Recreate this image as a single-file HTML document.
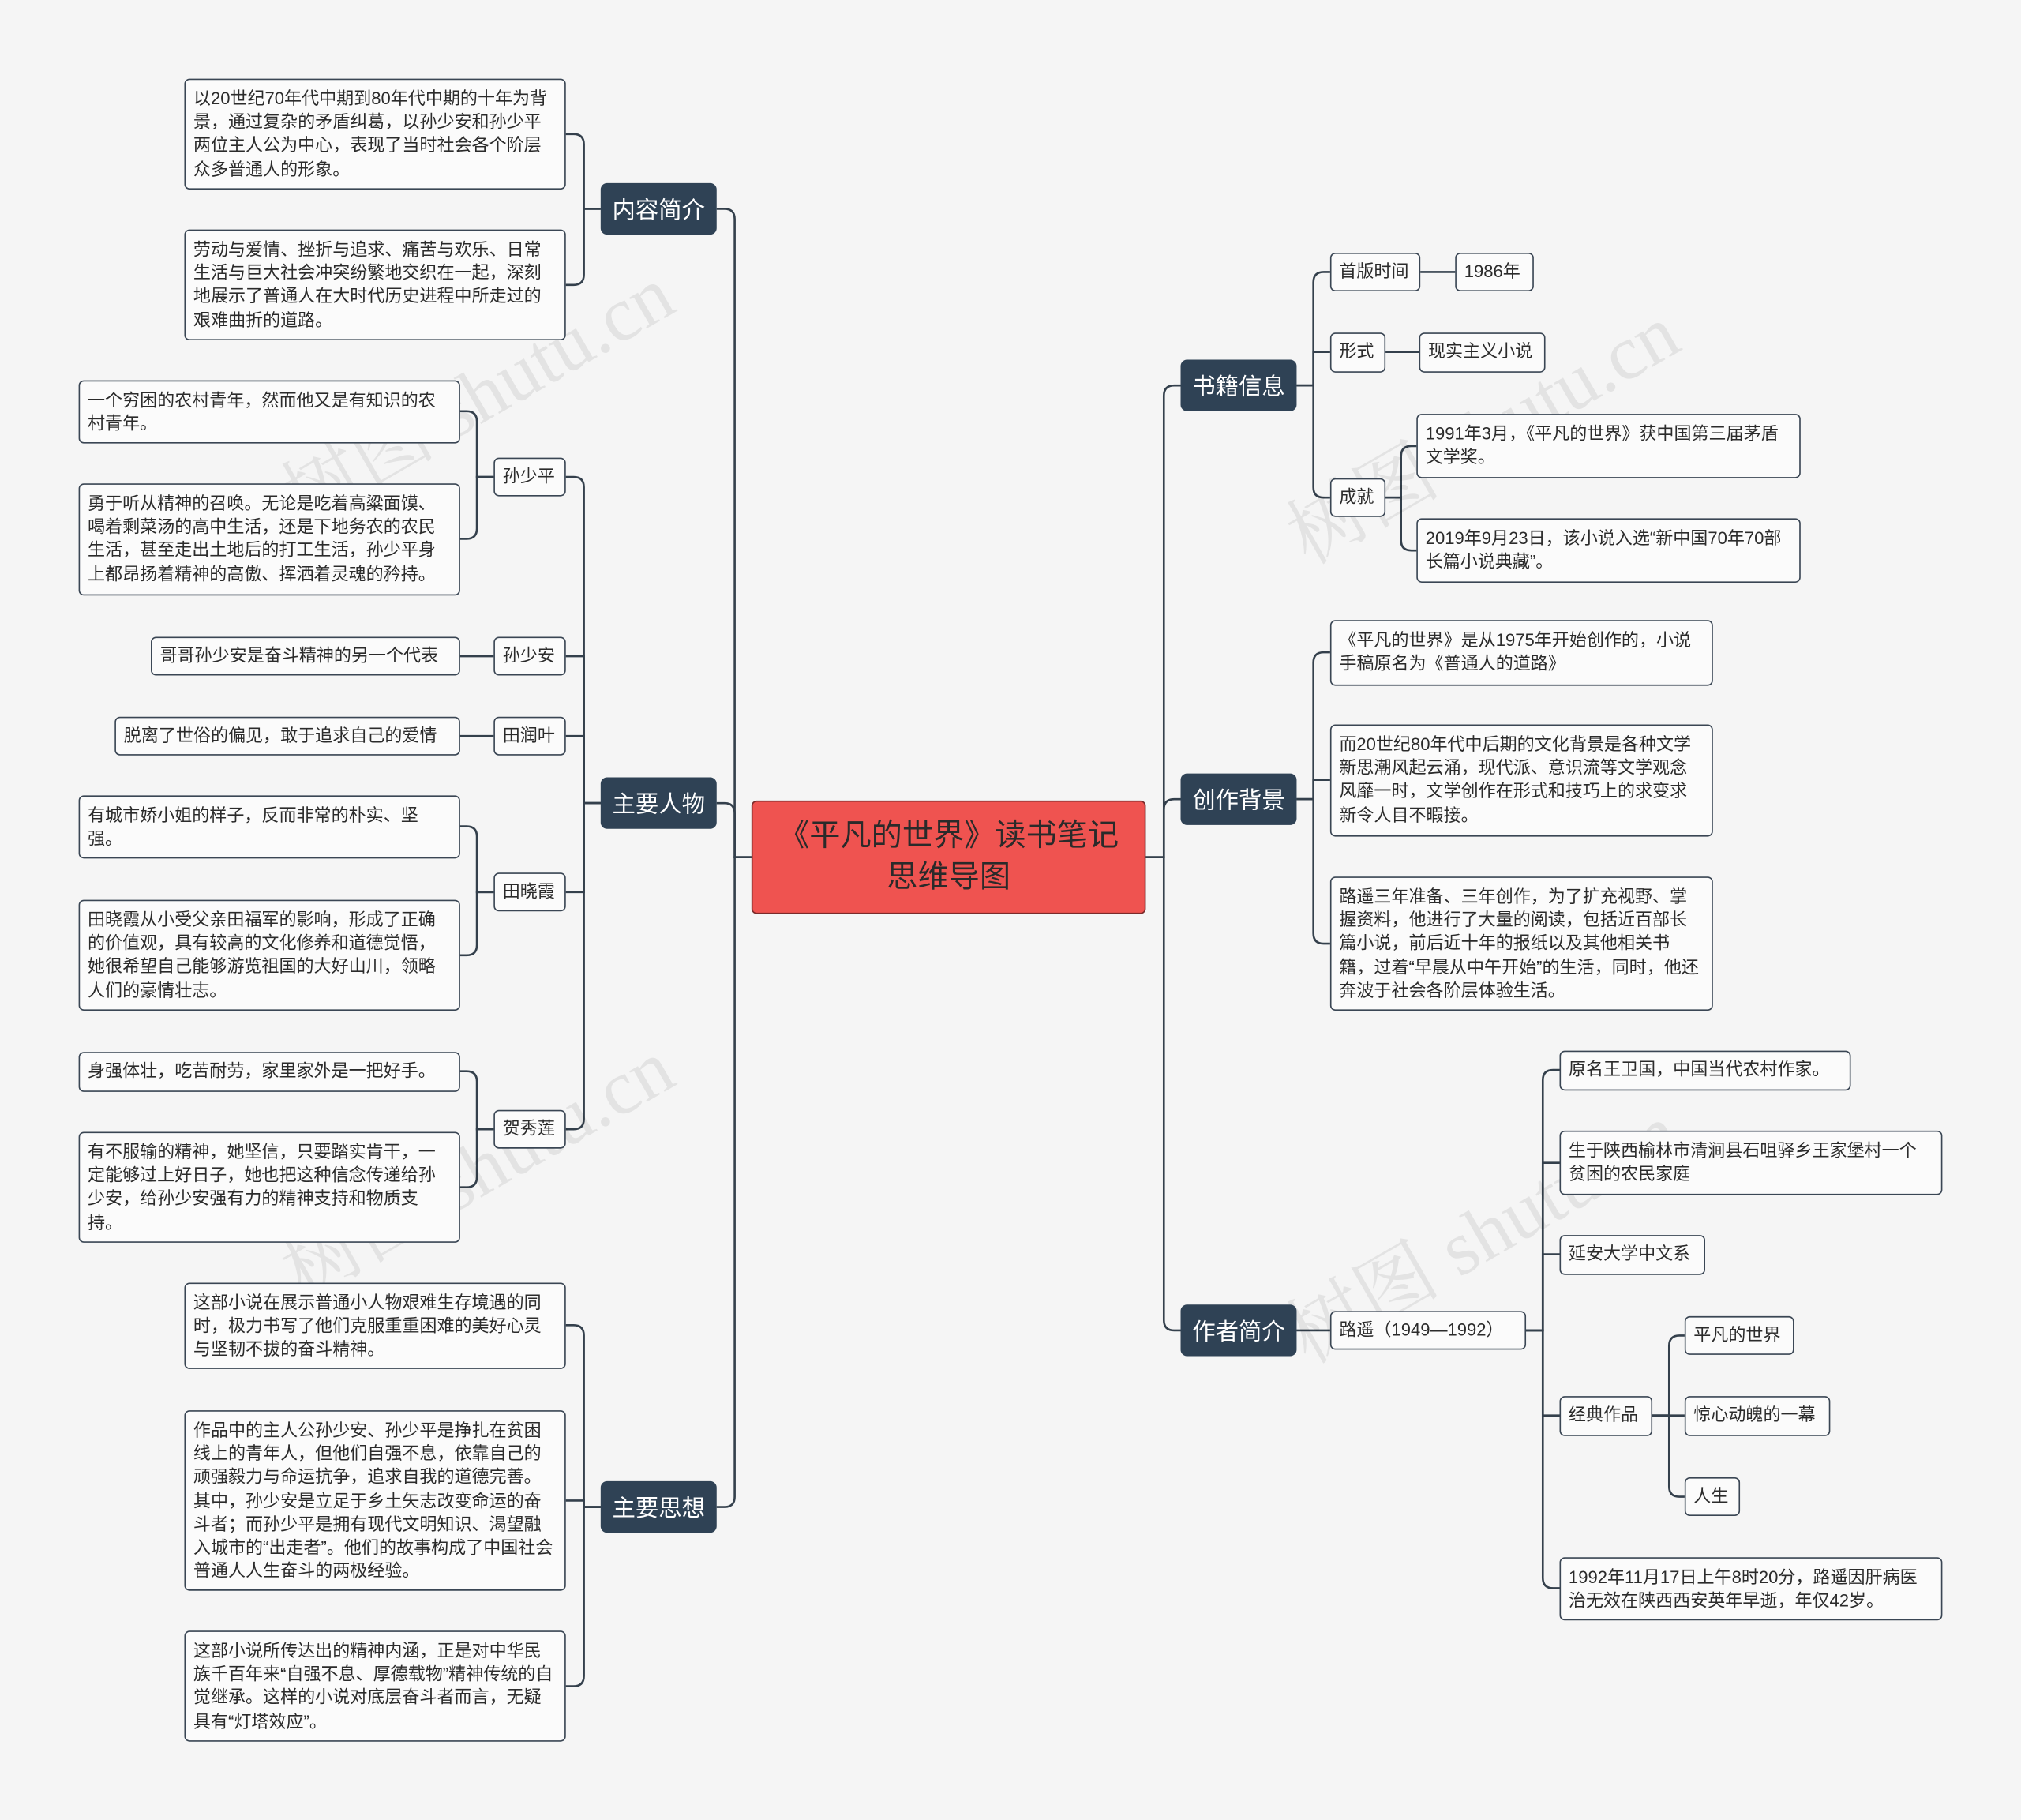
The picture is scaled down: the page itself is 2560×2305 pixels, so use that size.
<!DOCTYPE html>
<html><head><meta charset="utf-8"><style>
html,body{margin:0;padding:0;background:#f5f5f5;}
body{width:2560px;height:2305px;overflow:hidden;}
#w{position:absolute;left:0;top:0;width:1568px;height:1412px;transform:scale(1.63265);transform-origin:0 0;font-family:"Liberation Sans","Noto Sans CJK SC",sans-serif;}
.n{position:absolute;box-sizing:border-box;background:#fbfbfb;border:1px solid #3a4654;border-radius:4px;font-size:13.5px;line-height:18.2px;color:#2b2b2b;padding:6px 6px;}
.s{padding:5px 6px;line-height:18px;}
.b{position:absolute;box-sizing:border-box;background:#2f4255;color:#fff;border-radius:5px;font-size:18px;display:flex;align-items:center;justify-content:center;}
.c{position:absolute;box-sizing:border-box;background:#ef5350;border:1px solid #7a2b2b;border-radius:4px;color:#2a2a2a;font-size:24px;line-height:32px;text-align:center;display:flex;align-items:center;justify-content:center;}
svg{position:absolute;left:0;top:0;}
.wm{position:absolute;font-size:60px;color:rgba(0,0,0,0.07);transform:rotate(-30deg);white-space:nowrap;font-family:"Liberation Serif","Noto Serif CJK SC",serif;}
</style></head><body><div id="w">
<svg width="1568" height="1412" fill="none" stroke="#34404c" stroke-width="1.6">
<path d="M583 665 H570 V170 Q570 162 562 162 H556"/>
<path d="M583 665 H570 V631 Q570 623 562 623 H556"/>
<path d="M583 665 H570 V1161 Q570 1169 562 1169 H556"/>
<path d="M466 162 H453 V112 Q453 104 445 104 H439"/>
<path d="M466 162 H453 V213 Q453 221 445 221 H439"/>
<path d="M466 623 H453 V378 Q453 370 445 370 H439"/>
<path d="M466 623 H453 V509 H439"/>
<path d="M466 623 H453 V571 H439"/>
<path d="M466 623 H453 V692 H439"/>
<path d="M466 623 H453 V868 Q453 876 445 876 H439"/>
<path d="M383 370 H370 V327 Q370 319 362 319 H357"/>
<path d="M383 370 H370 V410 Q370 418 362 418 H357"/>
<path d="M383 509 H357"/><path d="M383 571 H357"/>
<path d="M383 692 H370 V649 Q370 641 362 641 H357"/>
<path d="M383 692 H370 V733 Q370 741 362 741 H357"/>
<path d="M383 876 H370 V839 Q370 831 362 831 H357"/>
<path d="M383 876 H370 V913 Q370 921 362 921 H357"/>
<path d="M466 1169 H453 V1036 Q453 1028 445 1028 H439"/>
<path d="M466 1169 H453 V1164 H439"/>
<path d="M466 1169 H453 V1300 Q453 1308 445 1308 H439"/>
<path d="M889 665 H903 V307 Q903 299 911 299 H916"/>
<path d="M889 665 H903 V628 Q903 620 911 620 H916"/>
<path d="M889 665 H903 V1024 Q903 1032 911 1032 H916"/>
<path d="M1006 299 H1019 V219 Q1019 211 1027 211 H1032"/>
<path d="M1006 299 H1019 V273 H1032"/>
<path d="M1006 299 H1019 V378 Q1019 386 1027 386 H1032"/>
<path d="M1102 211 H1129"/><path d="M1075 273 H1101"/>
<path d="M1075 386 H1087 V354 Q1087 346 1095 346 H1099"/>
<path d="M1075 386 H1087 V419 Q1087 427 1095 427 H1099"/>
<path d="M1006 620 H1019 V514 Q1019 506 1027 506 H1032"/>
<path d="M1006 620 H1019 V605 H1032"/>
<path d="M1006 620 H1019 V724 Q1019 732 1027 732 H1032"/>
<path d="M1006 1032 H1032"/>
<path d="M1184 1032 H1197 V838 Q1197 830 1205 830 H1210"/>
<path d="M1184 1032 H1197 V902 H1210"/>
<path d="M1184 1032 H1197 V973 H1210"/>
<path d="M1184 1032 H1197 V1098 H1210"/>
<path d="M1184 1032 H1197 V1224 Q1197 1232 1205 1232 H1210"/>
<path d="M1282 1098 H1295 V1044 Q1295 1036 1303 1036 H1307"/>
<path d="M1282 1098 H1307"/>
<path d="M1282 1098 H1295 V1153 Q1295 1161 1303 1161 H1307"/>
</svg>
<div class="wm" style="left:200px;top:260px">树图 shutu.cn</div>
<div class="wm" style="left:200px;top:860px">树图 shutu.cn</div>
<div class="wm" style="left:980px;top:290px">树图 shutu.cn</div>
<div class="wm" style="left:980px;top:910px">树图 shutu.cn</div>

<div class="c" style="left:583px;top:621px;width:306px;height:88px">《平凡的世界》读书笔记<br>思维导图</div>
<div class="b" style="left:466px;top:142px;width:90px;height:40px">内容简介</div>
<div class="b" style="left:466px;top:603px;width:90px;height:40px">主要人物</div>
<div class="b" style="left:466px;top:1149px;width:90px;height:40px">主要思想</div>
<div class="b" style="left:916px;top:279px;width:90px;height:40px">书籍信息</div>
<div class="b" style="left:916px;top:600px;width:90px;height:40px">创作背景</div>
<div class="b" style="left:916px;top:1012px;width:90px;height:40px">作者简介</div>

<div class="n" style="left:143px;top:61px;width:296px;height:86px">以20世纪70年代中期到80年代中期的十年为背景，通过复杂的矛盾纠葛，以孙少安和孙少平两位主人公为中心，表现了当时社会各个阶层众多普通人的形象。</div>
<div class="n" style="left:143px;top:178px;width:296px;height:86px">劳动与爱情、挫折与追求、痛苦与欢乐、日常生活与巨大社会冲突纷繁地交织在一起，深刻地展示了普通人在大时代历史进程中所走过的艰难曲折的道路。</div>

<div class="n s" style="left:383px;top:355px;width:56px;height:30px">孙少平</div>
<div class="n s" style="left:383px;top:494px;width:56px;height:30px">孙少安</div>
<div class="n s" style="left:383px;top:556px;width:56px;height:30px">田润叶</div>
<div class="n s" style="left:383px;top:677px;width:56px;height:30px">田晓霞</div>
<div class="n s" style="left:383px;top:861px;width:56px;height:30px">贺秀莲</div>

<div class="n" style="left:61px;top:295px;width:296px;height:49px">一个穷困的农村青年，然而他又是有知识的农村青年。</div>
<div class="n" style="left:61px;top:375px;width:296px;height:87px">勇于听从精神的召唤。无论是吃着高粱面馍、喝着剩菜汤的高中生活，还是下地务农的农民生活，甚至走出土地后的打工生活，孙少平身上都昂扬着精神的高傲、挥洒着灵魂的矜持。</div>
<div class="n s" style="left:117px;top:494px;width:240px;height:30px">哥哥孙少安是奋斗精神的另一个代表</div>
<div class="n s" style="left:89px;top:556px;width:268px;height:30px">脱离了世俗的偏见，敢于追求自己的爱情</div>
<div class="n" style="left:61px;top:617px;width:296px;height:49px">有城市娇小姐的样子，反而非常的朴实、坚强。</div>
<div class="n" style="left:61px;top:698px;width:296px;height:86px">田晓霞从小受父亲田福军的影响，形成了正确的价值观，具有较高的文化修养和道德觉悟，她很希望自己能够游览祖国的大好山川，领略人们的豪情壮志。</div>
<div class="n s" style="left:61px;top:816px;width:296px;height:31px">身强体壮，吃苦耐劳，家里家外是一把好手。</div>
<div class="n" style="left:61px;top:878px;width:296px;height:86px">有不服输的精神，她坚信，只要踏实肯干，一定能够过上好日子，她也把这种信念传递给孙少安，给孙少安强有力的精神支持和物质支持。</div>

<div class="n" style="left:143px;top:995px;width:296px;height:67px">这部小说在展示普通小人物艰难生存境遇的同时，极力书写了他们克服重重困难的美好心灵与坚韧不拔的奋斗精神。</div>
<div class="n" style="left:143px;top:1094px;width:296px;height:140px">作品中的主人公孙少安、孙少平是挣扎在贫困线上的青年人，但他们自强不息，依靠自己的顽强毅力与命运抗争，追求自我的道德完善。其中，孙少安是立足于乡土矢志改变命运的奋斗者；而孙少平是拥有现代文明知识、渴望融入城市的“出走者”。他们的故事构成了中国社会普通人人生奋斗的两极经验。</div>
<div class="n" style="left:143px;top:1265px;width:296px;height:86px">这部小说所传达出的精神内涵，正是对中华民族千百年来“自强不息、厚德载物”精神传统的自觉继承。这样的小说对底层奋斗者而言，无疑具有“灯塔效应”。</div>

<div class="n s" style="left:1032px;top:196px;width:70px;height:30px">首版时间</div>
<div class="n s" style="left:1129px;top:196px;width:61px;height:30px">1986年</div>
<div class="n s" style="left:1032px;top:258px;width:43px;height:31px">形式</div>
<div class="n s" style="left:1101px;top:258px;width:98px;height:31px">现实主义小说</div>
<div class="n s" style="left:1032px;top:371px;width:43px;height:30px">成就</div>
<div class="n" style="left:1099px;top:321px;width:298px;height:50px">1991年3月，《平凡的世界》获中国第三届茅盾文学奖。</div>
<div class="n" style="left:1099px;top:402px;width:298px;height:50px">2019年9月23日，该小说入选“新中国70年70部长篇小说典藏”。</div>

<div class="n" style="left:1032px;top:481px;width:297px;height:51px">《平凡的世界》是从1975年开始创作的，小说手稿原名为《普通人的道路》</div>
<div class="n" style="left:1032px;top:562px;width:297px;height:87px">而20世纪80年代中后期的文化背景是各种文学新思潮风起云涌，现代派、意识流等文学观念风靡一时，文学创作在形式和技巧上的求变求新令人目不暇接。</div>
<div class="n" style="left:1032px;top:680px;width:297px;height:104px">路遥三年准备、三年创作，为了扩充视野、掌握资料，他进行了大量的阅读，包括近百部长篇小说，前后近十年的报纸以及其他相关书籍，过着“早晨从中午开始”的生活，同时，他还奔波于社会各阶层体验生活。</div>

<div class="n s" style="left:1032px;top:1017px;width:152px;height:30px">路遥（1949—1992）</div>
<div class="n s" style="left:1210px;top:815px;width:226px;height:31px">原名王卫国，中国当代农村作家。</div>
<div class="n" style="left:1210px;top:877px;width:297px;height:50px">生于陕西榆林市清涧县石咀驿乡王家堡村一个贫困的农民家庭</div>
<div class="n s" style="left:1210px;top:958px;width:113px;height:31px">延安大学中文系</div>
<div class="n s" style="left:1210px;top:1083px;width:72px;height:31px">经典作品</div>
<div class="n s" style="left:1307px;top:1021px;width:85px;height:30px">平凡的世界</div>
<div class="n s" style="left:1307px;top:1083px;width:113px;height:31px">惊心动魄的一幕</div>
<div class="n s" style="left:1307px;top:1146px;width:43px;height:30px">人生</div>
<div class="n" style="left:1210px;top:1208px;width:297px;height:49px">1992年11月17日上午8时20分，路遥因肝病医治无效在陕西西安英年早逝，年仅42岁。</div>
</div></body></html>
